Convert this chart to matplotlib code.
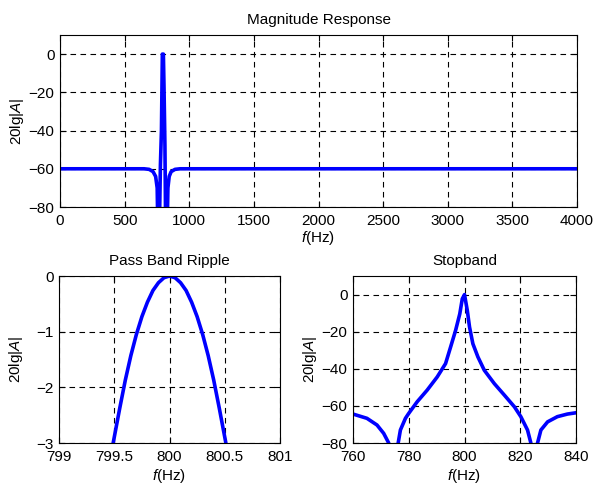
import numpy as np
import matplotlib
matplotlib.use("Agg")
import matplotlib.pyplot as plt

plt.rcParams['font.family'] = ['Liberation Sans', 'DejaVu Sans']
plt.rcParams['mathtext.fontset'] = 'custom'
plt.rcParams['mathtext.rm'] = 'Liberation Sans'
plt.rcParams['mathtext.it'] = 'Liberation Sans:italic'
plt.rcParams['font.size'] = 11

# full range response (coarse samples)
f_full = [0, 650, 690, 720, 740, 752, 758, 768, 777, 785, 792, 800, 805, 812, 818,
          828, 835, 845, 860, 890, 930, 4000]
a_full = [-60, -60, -60.3, -61.5, -64, -70, -95, -95, -58, -40, 0, 0, -18, -48, -95,
          -95, -70, -64, -61.5, -60.3, -60, -60]

# pass band detail
f_pass = [799.49, 799.55, 799.6, 799.65, 799.7, 799.75, 799.8, 799.85, 799.9, 799.95,
          800.0, 800.05, 800.1, 800.15, 800.2, 800.25, 800.3, 800.35, 800.4, 800.45,
          800.51]
a_pass = [-3.0, -2.37, -1.87, -1.43, -1.05, -0.73, -0.47, -0.26, -0.12, -0.03,
          0.0, -0.03, -0.12, -0.26, -0.47, -0.73, -1.05, -1.43, -1.87, -2.37,
          -3.0]

# stopband detail
f_stop = [760, 765, 768.6, 771, 772.8, 774.5, 776.2, 777, 778.8, 780, 783, 786.6,
          790.2, 793.2, 795, 796.8, 798.3, 799.2, 800, 801, 801.8, 803, 804.8, 807.1,
          810.7, 814.3, 817.9, 820.2, 822.6, 823.8, 825.2, 826.2, 827.4, 829.8, 833.3,
          836.9, 840]
a_stop = [-64.4, -66.7, -70.3, -74.8, -80, -110, -80, -73, -66.7, -64, -57.8, -51.5,
          -44.4, -37.2, -28.3, -19.3, -10.4, -2.3, 0, -8.6, -17.5, -26.5, -33.6, -40.8,
          -48, -54.2, -60.5, -65.8, -73, -80, -110, -80, -73, -68.6, -65.8,
          -64.4, -63.7]

ylab = r'20lg|$\mathit{A}$|'
xlab = r'$\mathit{f}$(Hz)'

fig = plt.figure(figsize=(5.95, 4.84), dpi=100)


def style(ax):
    ax.grid(True, color='black', linestyle=(0, (5, 4)), linewidth=0.8)
    ax.tick_params(direction='in', length=4, top=True, right=True, labelsize=11)
    ax.tick_params(axis='x', pad=5)
    ax.tick_params(axis='y', pad=4)
    for s in ax.spines.values():
        s.set_linewidth(0.8)


ax1 = fig.add_axes([0.1008, 0.5723, 0.869, 0.3554])
ax1.plot(f_full, a_full, color='blue', linewidth=2.6)
ax1.set_xlim(0, 4000)
ax1.set_ylim(-80, 10)
ax1.set_yticks([-80, -60, -40, -20, 0])
ax1.set_xticks(np.arange(0, 4001, 500))
ax1.set_title('Magnitude Response', fontsize=11, pad=8)
ax1.set_xlabel(xlab, labelpad=1)
ax1.set_ylabel(ylab, labelpad=2)
style(ax1)

ax2 = fig.add_axes([0.0992, 0.0847, 0.3714, 0.345])
ax2.plot(f_pass, a_pass, color='blue', linewidth=2.6)
ax2.set_xlim(799, 801)
ax2.set_ylim(-3, 0)
ax2.set_xticks([799, 799.5, 800, 800.5, 801])
ax2.set_xticklabels(['799', '799.5', '800', '800.5', '801'])
ax2.set_yticks([-3, -2, -1, 0])
ax2.set_title('Pass Band Ripple', fontsize=11, pad=8)
ax2.set_xlabel(xlab, labelpad=2)
ax2.set_ylabel(ylab, labelpad=8)
style(ax2)

ax3 = fig.add_axes([0.5933, 0.0847, 0.3748, 0.345])
ax3.plot(f_stop, a_stop, color='blue', linewidth=2.6)
ax3.set_xlim(760, 840)
ax3.set_ylim(-80, 10)
ax3.set_xticks([760, 780, 800, 820, 840])
ax3.set_yticks([-80, -60, -40, -20, 0])
ax3.set_title('Stopband', fontsize=11, pad=8)
ax3.set_xlabel(xlab, labelpad=2)
ax3.set_ylabel(ylab, labelpad=2)
style(ax3)

fig.savefig('out.png', dpi=100)
